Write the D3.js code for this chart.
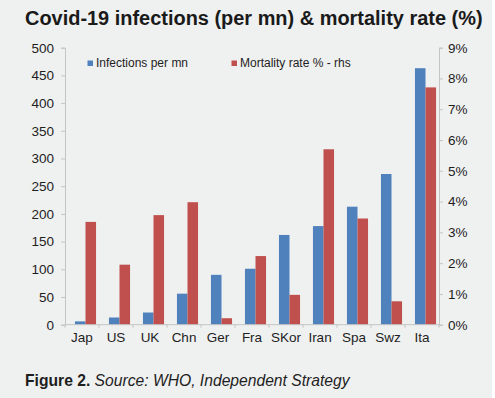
<!DOCTYPE html>
<html>
<head>
<meta charset="utf-8">
<script src="https://cdn.jsdelivr.net/npm/d3@7"></script>
<style>
  body { margin: 0; background: #ffffff; }
  svg { display: block; font-family: "Liberation Sans", Arial, sans-serif; }
</style>
</head>
<body>
<div id="chart"></div>
<script>
var countries = ["Jap", "US", "UK", "Chn", "Ger", "Fra", "SKor", "Iran", "Spa", "Swz", "Ita"];
var infections = [6, 13, 22, 56, 90, 101, 162, 178, 213, 272, 463];
var mortality = [3.34, 1.95, 3.56, 3.98, 0.21, 2.23, 0.97, 5.70, 3.45, 0.76, 7.71];
var leftTicks = [0, 50, 100, 150, 200, 250, 300, 350, 400, 450, 500];
var rightTicks = [0, 1, 2, 3, 4, 5, 6, 7, 8, 9];
var seriesNames = ["Infections per mn", "Mortality rate % - rhs"];

var width = 495, height = 398;
var plot = {left: 65, right: 439, top: 47.7, bottom: 324.7};
var blue = "#4f81bd", red = "#c0504d", axisCol = "#c4c4c4";

var svg = d3.select("#chart")
  .append("svg")
  .attr("width", width)
  .attr("height", height)

svg.append("rect").attr("width", width).attr("height", height).attr("fill", "#eff0f0")
svg.append("rect").attr("x", 492).attr("width", 3).attr("height", height).attr("fill", "#ffffff")

// title, fitted to the width it takes in the picture
var title = svg.append("text")
  .attr("x", 25).attr("y", 25)
  .attr("font-weight", "bold").attr("font-size", 18).attr("fill", "#1a1a1a")
  .text("Covid-19 infections (per mn) & mortality rate (%)")
var tw = title.node().getComputedTextLength()
title.attr("font-size", 18 * 458 / tw)

var x = d3.scaleBand().domain(countries).range([plot.left, plot.right])
var yL = d3.scaleLinear().domain([0, 500]).range([plot.bottom, plot.top])
var yR = d3.scaleLinear().domain([0, 9]).range([plot.bottom, plot.top])

var groupW = x.bandwidth() * 0.62
var groupOff = (x.bandwidth() - groupW) / 2 + 3.5
var xSub = d3.scaleBand().domain([0, 1]).range([0, groupW])

var rows = countries.map(function(c, i){ return {c: c, inf: infections[i], mort: mortality[i]} })

var g = svg.append("g")

g.selectAll(".inf").data(rows).enter().append("rect")
  .attr("class", "inf")
  .attr("x", function(d){ return x(d.c) + groupOff + xSub(0) })
  .attr("width", xSub.bandwidth())
  .attr("y", function(d){ return yL(d.inf) })
  .attr("height", function(d){ return yL(0) - yL(d.inf) })
  .attr("fill", blue)

g.selectAll(".mort").data(rows).enter().append("rect")
  .attr("class", "mort")
  .attr("x", function(d){ return x(d.c) + groupOff + xSub(1) })
  .attr("width", xSub.bandwidth())
  .attr("y", function(d){ return yR(d.mort) })
  .attr("height", function(d){ return yR(0) - yR(d.mort) })
  .attr("fill", red)

// left axis
var axL = svg.append("g")
  .attr("transform", "translate(" + plot.left + ",0)")
  .call(d3.axisLeft(yL).tickValues(leftTicks).tickSize(4).tickPadding(7))
// right axis
var axR = svg.append("g")
  .attr("transform", "translate(" + plot.right + ",0)")
  .call(d3.axisRight(yR).tickValues(rightTicks).tickSize(4).tickPadding(5)
    .tickFormat(function(d){ return d + "%" }))
// bottom axis: labels centred, tick marks at category boundaries
var axB = svg.append("g")
  .attr("transform", "translate(0," + plot.bottom + ")")
  .call(d3.axisBottom(x).tickSize(0).tickPadding(8))
axB.selectAll(".tick text").attr("dy", "0.71em")
var bounds = countries.map(function(c){ return x(c) }).concat([plot.right])
axB.selectAll(".bnd").data(bounds).enter().append("line")
  .attr("class", "bnd")
  .attr("x1", function(d){ return d }).attr("x2", function(d){ return d })
  .attr("y1", 0).attr("y2", 3)
  .attr("stroke", axisCol)

;[axL, axR, axB].forEach(function(a){
  a.selectAll("path.domain").attr("stroke", axisCol)
  a.selectAll(".tick line").attr("stroke", axisCol)
  a.selectAll(".tick text").attr("font-size", 13.5).attr("fill", "#1e1e1e")
    .attr("font-family", "Liberation Sans, Arial, sans-serif")
})
axB.select("path.domain").attr("d", "M" + plot.left + ",0H" + plot.right)

// legend
var legend = svg.append("g")
var legX = [87.5, 231.5]
legend.selectAll("rect").data(seriesNames).enter().append("rect")
  .attr("x", function(d, i){ return legX[i] })
  .attr("y", 60.5).attr("width", 5.5).attr("height", 5.5)
  .attr("fill", function(d, i){ return i === 0 ? blue : red })
legend.selectAll("text").data(seriesNames).enter().append("text")
  .attr("x", function(d, i){ return legX[i] + 8.5 })
  .attr("y", 67)
  .attr("font-size", 12).attr("fill", "#1e1e1e")
  .text(function(d){ return d })

// footer, fitted to its width in the picture
var foot = svg.append("text").attr("x", 25).attr("y", 386).attr("font-size", 14).attr("fill", "#1e1e1e")
foot.append("tspan").attr("font-weight", "bold").text("Figure 2.")
foot.append("tspan").attr("font-style", "italic").text(" Source: WHO, Independent Strategy")
var fw = foot.node().getComputedTextLength()
foot.attr("font-size", 14 * 325 / fw)
</script>
</body>
</html>
